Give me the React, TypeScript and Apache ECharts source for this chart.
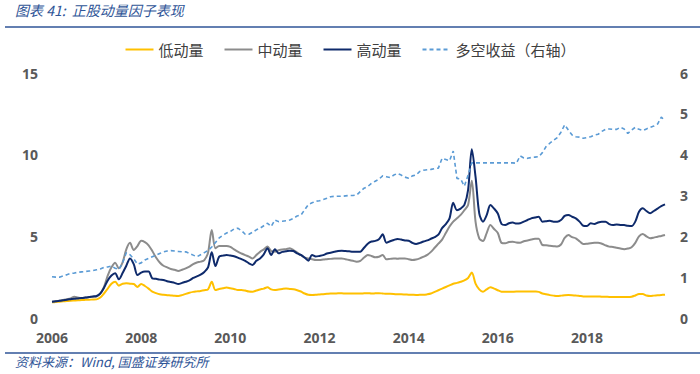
import React, { useEffect, useRef } from "react";
import * as echarts from "echarts";

// Monthly observations, 2006-01 .. 2019-10
const startYear = 2006;
const monthCount = 166;
const yearTicks = ["2006", "2008", "2010", "2012", "2014", "2016", "2018"];

const lowMomentum = [
  // 2006
  0.96, 0.98, 1.0, 1.02, 1.04, 1.06, 1.07, 1.08, 1.1, 1.11, 1.12, 1.13,
  // 2007
  1.14, 1.25, 1.5, 1.8, 2.1, 2.22, 1.98, 2.1, 2.12, 2.1, 2.08, 1.9,
  // 2008
  2.08, 1.96, 1.8, 1.61, 1.52, 1.45, 1.42, 1.4, 1.38, 1.36, 1.35, 1.4,
  // 2009
  1.48, 1.55, 1.6, 1.63, 1.66, 1.7, 1.75, 2.22, 1.71, 1.78, 1.82, 1.86,
  // 2010
  1.82, 1.78, 1.71, 1.72, 1.68, 1.62, 1.61, 1.68, 1.75, 1.8, 1.88, 1.75,
  // 2011
  1.71, 1.75, 1.78, 1.8, 1.78, 1.76, 1.7, 1.62, 1.5, 1.42, 1.41, 1.42,
  // 2012
  1.44, 1.46, 1.48, 1.5, 1.5, 1.51, 1.51, 1.5, 1.5, 1.5, 1.5, 1.5,
  // 2013
  1.51, 1.52, 1.5, 1.51, 1.52, 1.5, 1.48, 1.48, 1.47, 1.45, 1.45, 1.44,
  // 2014
  1.43, 1.42, 1.41, 1.42, 1.42, 1.45, 1.5, 1.6, 1.7, 1.8, 1.9, 2.0,
  // 2015
  2.1, 2.15, 2.22, 2.3, 2.45, 2.78, 2.1, 1.75, 1.61, 1.75, 1.88, 1.8,
  // 2016
  1.7, 1.61, 1.6, 1.6, 1.61, 1.62, 1.62, 1.62, 1.62, 1.63, 1.62, 1.6,
  // 2017
  1.5, 1.45, 1.4, 1.37, 1.35, 1.37, 1.4, 1.41, 1.4, 1.38, 1.35, 1.32,
  // 2018
  1.31, 1.31, 1.32, 1.32, 1.3, 1.3, 1.29, 1.29, 1.28, 1.28, 1.28, 1.28,
  // 2019
  1.3, 1.38, 1.47, 1.47, 1.38, 1.35, 1.37, 1.39, 1.41, 1.43,
];

const midMomentum = [
  // 2006
  1.0, 1.03, 1.06, 1.1, 1.15, 1.2, 1.3, 1.25, 1.22, 1.25, 1.28, 1.3,
  // 2007
  1.32, 1.5, 1.9, 2.6, 3.1, 3.39, 3.04, 3.4, 4.2, 4.6, 4.16, 4.4,
  // 2008
  4.73, 4.65, 4.45, 4.1, 3.7, 3.4, 3.2, 3.1, 3.0, 2.95, 2.88, 2.95,
  // 2009
  3.04, 3.15, 3.3, 3.4, 3.45, 3.55, 4.0, 5.39, 4.27, 4.41, 4.41, 4.41,
  // 2010
  4.35, 4.2, 4.06, 3.95, 3.85, 3.76, 3.65, 3.85, 4.05, 4.2, 4.37, 4.1,
  // 2011
  4.06, 4.15, 4.2, 4.21, 4.27, 4.16, 4.0, 3.85, 3.7, 3.65, 3.6, 3.55,
  // 2012
  3.55, 3.58, 3.6, 3.62, 3.65, 3.65, 3.65, 3.6, 3.55, 3.5, 3.45, 3.5,
  // 2013
  3.7, 3.86, 3.8, 3.72, 3.75, 3.86, 3.59, 3.62, 3.65, 3.63, 3.65, 3.65,
  // 2014
  3.6, 3.55, 3.58, 3.65, 3.75, 3.86, 4.05, 4.3, 4.55, 4.8, 5.2, 5.6,
  // 2015
  5.9, 6.1, 6.31, 6.6, 6.92, 8.41, 5.9, 4.88, 4.71, 5.2, 5.69, 5.45,
  // 2016
  5.2, 4.6, 4.57, 4.65, 4.67, 4.62, 4.61, 4.7, 4.75, 4.8, 4.85, 4.85,
  // 2017
  4.47, 4.45, 4.42, 4.4, 4.37, 4.5, 4.9, 5.08, 4.95, 4.88, 4.7, 4.53,
  // 2018
  4.55, 4.58, 4.6, 4.61, 4.55, 4.45, 4.37, 4.35, 4.3, 4.25, 4.21, 4.25,
  // 2019
  4.33, 4.6, 5.0, 5.14, 5.0, 4.88, 4.92, 4.98, 5.02, 5.08,
];

const highMomentum = [
  // 2006
  1.0, 1.02, 1.05, 1.08, 1.12, 1.15, 1.18, 1.2, 1.22, 1.25, 1.28, 1.32,
  // 2007
  1.35, 1.5, 1.85, 2.3, 2.6, 2.74, 2.37, 2.75, 3.2, 3.65, 3.3, 2.63,
  // 2008
  2.78, 2.84, 2.84, 2.43, 2.4, 2.35, 2.33, 2.25, 2.2, 2.15, 2.08, 2.15,
  // 2009
  2.22, 2.3, 2.45, 2.55, 2.65, 2.82, 3.1, 4.02, 3.18, 3.76, 3.82, 3.86,
  // 2010
  3.82, 3.78, 3.7, 3.6, 3.5, 3.35, 3.25, 3.5, 3.65, 3.9, 4.27, 3.86,
  // 2011
  4.21, 3.96, 4.05, 4.08, 4.12, 4.1, 3.95, 3.86, 3.7, 3.51, 3.86, 3.76,
  // 2012
  3.8, 3.85, 3.95, 4.0, 4.05, 4.1, 4.12, 4.1, 4.08, 4.06, 4.05, 4.06,
  // 2013
  4.3, 4.55, 4.68, 4.72, 4.82, 5.12, 4.61, 4.7, 4.78, 4.84, 4.8, 4.75,
  // 2014
  4.73, 4.6, 4.53, 4.6, 4.68, 4.75, 4.85, 4.95, 5.1, 5.5, 5.75, 6.1,
  // 2015
  7.06, 6.6, 6.7, 6.92, 7.84, 10.33, 8.65, 6.41, 5.9, 6.3, 6.92, 6.7,
  // 2016
  6.4, 5.75, 5.69, 5.8, 5.84, 5.78, 5.8, 5.9, 6.0, 6.1, 6.15, 6.2,
  // 2017
  5.9, 5.92, 5.95, 5.9, 5.9, 6.0, 6.25, 6.31, 6.2, 6.1, 5.9, 5.65,
  // 2018
  5.63, 5.8, 5.75, 5.85, 5.9, 5.9, 5.75, 5.69, 5.72, 5.7, 5.69, 5.65,
  // 2019
  5.63, 5.9, 6.5, 6.72, 6.55, 6.41, 6.55, 6.7, 6.85, 6.96,
];

const longShort = [
  // 2006
  1.01, 1.0, 1.0, 1.03, 1.06, 1.09, 1.1, 1.12, 1.13, 1.14, 1.15, 1.16,
  // 2007
  1.18, 1.2, 1.24, 1.25, 1.27, 1.22, 1.19, 1.35, 1.6, 1.55, 1.45, 1.32,
  // 2008
  1.35, 1.42, 1.46, 1.5, 1.54, 1.58, 1.62, 1.64, 1.65, 1.64, 1.63, 1.62,
  // 2009
  1.62, 1.58, 1.54, 1.5, 1.55, 1.6, 1.65, 1.74, 1.85, 1.96, 2.03, 2.08,
  // 2010
  2.12, 2.18, 2.2, 2.14, 2.05, 2.05, 2.1, 2.16, 2.2, 2.26, 2.32, 2.24,
  // 2011
  2.4, 2.36, 2.37, 2.38, 2.4, 2.44, 2.5, 2.52, 2.65, 2.78, 2.82, 2.86,
  // 2012
  2.87, 2.9, 2.93, 2.97, 2.98, 2.98, 2.98, 2.99, 3.0, 3.0, 3.01, 3.1,
  // 2013
  3.18, 3.22, 3.3, 3.35, 3.4, 3.48, 3.46, 3.44, 3.5, 3.54, 3.5, 3.45,
  // 2014
  3.42, 3.48, 3.5, 3.59, 3.62, 3.63, 3.64, 3.66, 3.67, 3.91, 3.88, 3.85,
  // 2015
  4.09, 3.42, 3.4, 3.23, 3.5, 3.8, 3.8, 3.8, 3.8, 3.8, 3.8, 3.8,
  // 2016
  3.8, 3.8, 3.8, 3.8, 3.8, 3.79, 3.97, 3.92, 3.91, 3.93, 3.94, 3.95,
  // 2017
  4.05, 4.2, 4.28, 4.35, 4.42, 4.55, 4.73, 4.6, 4.48, 4.44, 4.43, 4.4,
  // 2018
  4.42, 4.44, 4.48, 4.5, 4.57, 4.62, 4.63, 4.62, 4.62, 4.67, 4.63, 4.52,
  // 2019
  4.6, 4.67, 4.62, 4.59, 4.63, 4.67, 4.7, 4.75, 4.92, 4.83,
];

const months: string[] = [];
for (let i = 0; i < monthCount; i++) {
  const y = startYear + Math.floor(i / 12);
  const m = (i % 12) + 1;
  months.push(`${y}-${m < 10 ? "0" + m : m}`);
}

const BLUE = "#2F5597";
const FONT = "'Noto Sans CJK SC', 'Open Sans', sans-serif";

export default function App() {
  const ref = useRef<HTMLDivElement>(null);
  useEffect(() => {
    if (!ref.current) return;
    const chart = echarts.init(ref.current, undefined, { renderer: "svg" });
    const axisLabelStyle = {
      color: "#595959",
      fontSize: 14,
      fontWeight: "bold" as const,
      fontFamily: "'Open Sans', 'Noto Sans', sans-serif",
    };
    chart.setOption({
      animation: false,
      backgroundColor: "#ffffff",
      textStyle: { fontFamily: FONT },
      graphic: [
        {
          type: "text",
          left: 15,
          top: 3,
          style: {
            text: "图表 41:  正股动量因子表现",
            fill: BLUE,
            font: "italic 14px 'Noto Sans CJK SC', sans-serif",
          },
        },
        {
          type: "line",
          shape: { x1: 5, y1: 27, x2: 700, y2: 27 },
          style: { stroke: BLUE, lineWidth: 1.5 },
        },
        {
          type: "line",
          shape: { x1: 5, y1: 353, x2: 700, y2: 353 },
          style: { stroke: BLUE, lineWidth: 1.5 },
        },
        {
          type: "text",
          left: 15,
          top: 355,
          style: {
            text: "资料来源：Wind, 国盛证券研究所",
            fill: BLUE,
            font: "italic 13px 'Noto Sans CJK SC', sans-serif",
          },
        },
      ],
      legend: {
        top: 37,
        left: "center",
        itemWidth: 28,
        itemHeight: 10,
        itemGap: 20,
        itemStyle: { opacity: 0 },
        textStyle: { color: "#404040", fontSize: 15, fontFamily: FONT },
        data: ["低动量", "中动量", "高动量", "多空收益（右轴）"],
      },
      grid: { left: 52, right: 35, top: 73, bottom: 56, containLabel: false },
      xAxis: {
        type: "category",
        data: months,
        boundaryGap: false,
        axisLine: { show: false },
        axisTick: { show: false },
        splitLine: { show: false },
        axisLabel: {
          ...axisLabelStyle,
          margin: 12,
          interval: (idx: number) => idx % 24 === 0,
          formatter: (v: string) => {
            const y = v.slice(0, 4);
            return yearTicks.includes(y) && v.endsWith("-01") ? y : "";
          },
        },
      },
      yAxis: [
        {
          type: "value",
          min: 0,
          max: 15,
          interval: 5,
          axisLine: { show: false },
          axisTick: { show: false },
          splitLine: { show: false },
          axisLabel: { ...axisLabelStyle, margin: 14 },
        },
        {
          type: "value",
          min: 0,
          max: 6,
          interval: 1,
          position: "right",
          axisLine: { show: false },
          axisTick: { show: false },
          splitLine: { show: false },
          axisLabel: { ...axisLabelStyle, margin: 15 },
        },
      ],
      series: [
        {
          name: "低动量",
          type: "line",
          data: lowMomentum,
          symbol: "none",
          smooth: 0.3,
          lineStyle: { color: "#FFC000", width: 2 },
          itemStyle: { color: "#FFC000" },
        },
        {
          name: "中动量",
          type: "line",
          data: midMomentum,
          symbol: "none",
          smooth: 0.3,
          lineStyle: { color: "#8C8C8C", width: 2 },
          itemStyle: { color: "#8C8C8C" },
        },
        {
          name: "高动量",
          type: "line",
          data: highMomentum,
          symbol: "none",
          smooth: 0.3,
          lineStyle: { color: "#0E2A6B", width: 2 },
          itemStyle: { color: "#0E2A6B" },
        },
        {
          name: "多空收益（右轴）",
          type: "line",
          yAxisIndex: 1,
          data: longShort,
          symbol: "none",
          lineStyle: { color: "#5B9BD5", width: 1.6, type: [4, 3] },
          itemStyle: { color: "#5B9BD5" },
        },
      ],
    });
    return () => chart.dispose();
  }, []);
  return (
    <div
      ref={ref}
      style={{ position: "absolute", left: 0, top: 0, width: 700, height: 374 }}
    />
  );
}
